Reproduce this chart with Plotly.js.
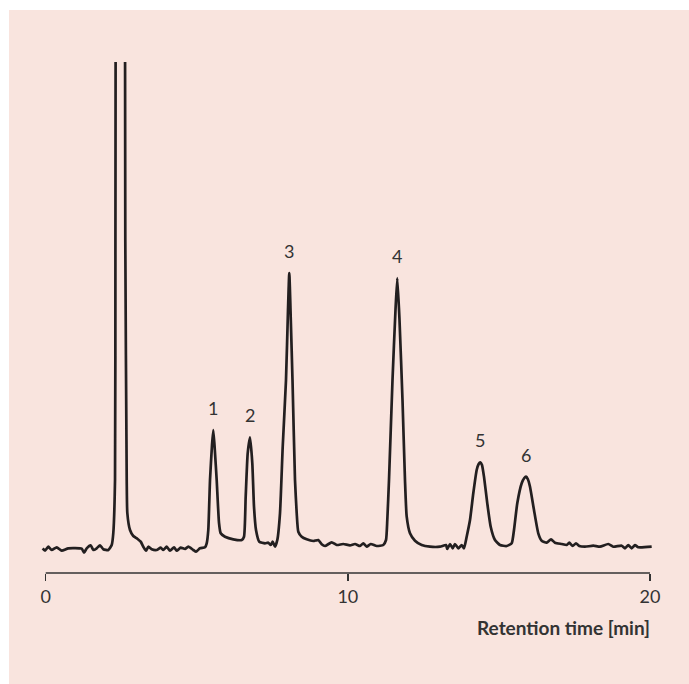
<!DOCTYPE html>
<html>
<head>
<meta charset="utf-8">
<script src="https://cdn.plot.ly/plotly-3.0.1.min.js"></script>
<style>
  html, body { margin: 0; padding: 0; background: #ffffff; }
  #chart { width: 689px; height: 684px; }
</style>
</head>
<body>
<div id="chart"></div>
<script>
// Retention time (min)
const retentionTime = [
  -0.099, -0.023, 0.086, 0.199, 0.364, 0.530, 0.748, 1.191, 1.268, 1.357,
  1.489, 1.575, 1.688, 1.797, 1.906, 2.072, 2.184, 2.237, 2.294, 2.307,
  2.333, 2.470, 2.608, 2.634, 2.681, 2.701, 2.790, 2.899, 3.032, 3.144,
  3.230, 3.320, 3.396, 3.508, 3.674, 3.806, 3.892, 4.005, 4.114, 4.246,
  4.336, 4.468, 4.610, 4.719, 4.885, 4.974, 5.107, 5.272, 5.328, 5.381,
  5.438, 5.504, 5.547, 5.597, 5.659, 5.736, 5.792, 5.934, 6.209, 6.487,
  6.563, 6.619, 6.685, 6.762, 6.838, 6.894, 6.960, 7.069, 7.258, 7.367,
  7.447, 7.513, 7.589, 7.665, 7.754, 7.844, 7.953, 8.019, 8.062, 8.112,
  8.168, 8.251, 8.307, 8.360, 8.473, 8.638, 8.857, 9.022, 9.134, 9.244,
  9.465, 9.631, 9.849, 10.071, 10.237, 10.402, 10.511, 10.624, 10.756, 10.955,
  11.173, 11.263, 11.306, 11.362, 11.478, 11.577, 11.637, 11.710, 11.809, 11.891,
  11.948, 12.057, 12.222, 12.444, 12.719, 13.050, 13.248, 13.291, 13.381, 13.470,
  13.546, 13.656, 13.768, 13.844, 13.933, 14.043, 14.152, 14.264, 14.330, 14.384, 14.440, 14.506,
  14.615, 14.728, 14.870, 15.036, 15.257, 15.423, 15.499, 15.608, 15.754, 15.840, 15.896, 15.955,
  16.029, 16.161, 16.303, 16.416, 16.581, 16.724, 16.856, 17.078, 17.243, 17.329,
  17.442, 17.551, 17.660, 17.849, 18.124, 18.345, 18.620, 18.785, 19.063, 19.173,
  19.282, 19.394, 19.504, 19.613, 20.056
];

// Detector signal (arbitrary units)
const signal = [
  0.7, -1.7, 2.3, -1, 1.7, -1.7, 0.7, 0.3, -3.7, 0.7,
  3.7, -1, 0.7, 3.7, -0.3, -1, 4, 16, 69, 309,
  720, 950, 720, 309, 69, 36, 19, 13, 10.3, 7.3,
  2.3, -1.7, 2.3, -0.3, -1, 1.3, -1, 2.3, -1.7, 1.7,
  -1.7, 1.3, 0, 2.3, -1, -2.7, 0.7, 1.7, 5.7, 19,
  69, 104, 119, 99, 69, 26, 15.7, 12.3, 9.7, 9,
  12.3, 52.3, 95.7, 111.7, 85.7, 42.3, 19, 7.3, 5.7, 6.3,
  4, 7.3, 2.3, 9, 35.7, 102.3, 169, 239, 276, 229,
  169, 69, 36, 17.3, 12.3, 9.7, 8, 9, 4.7, 3,
  6.7, 4, 5, 3.7, 5, 3, 5.7, 2.3, 5, 3,
  4, 9, 29, 69, 169, 239, 271, 229, 149, 69,
  32.3, 15.7, 8.3, 4, 2.3, 2.3, 4, 0, 5, 0.7,
  5, 0.7, 4, 0.7, 12.3, 29, 55.7, 79, 85, 86.7, 84, 72.3,
  45.7, 22.3, 9, 4, 3, 5.7, 19, 45.7, 65.7, 71, 72.3, 70,
  62.3, 39, 15.7, 8.3, 6.3, 9.7, 6.3, 5, 4, 6.3,
  3, 5.7, 3, 2.3, 3.3, 2.3, 5, 2.3, 3.3, 0.7,
  4, 0.7, 4, 1.7, 2.3
];

// Peak labels
const peakLabels = ["1", "2", "3", "4", "5", "6"];
const peakTimes = [5.547, 6.762, 8.062, 11.637, 14.384, 15.896];
const peakHeights = [119, 111.7, 276, 271, 86.7, 72.3];

// Axis ticks
const tickValues = [0, 10, 20];
const tickLabels = ["0", "10", "20"];
const xTitle = "Retention time [min]";

const pink = "#F9E4DE";
const ink = "#231F20";
const textCol = "#333333";

const annotations = peakLabels.map((lab, i) => ({
  x: peakTimes[i], y: peakHeights[i], xref: "x", yref: "y",
  text: lab, showarrow: false, yshift: 22,
  xanchor: "center", yanchor: "middle",
  font: { family: "Lato, sans-serif", size: 18, color: textCol }
}));
annotations.push({
  x: 20.076, xref: "x", y: -0.1057, yref: "paper",
  text: xTitle, showarrow: false, xanchor: "right", yanchor: "middle",
  font: { family: "Lato, sans-serif", size: 19, color: textCol, weight: "bold" }
});

const data = [{
  type: "scatter", mode: "lines",
  x: retentionTime, y: signal,
  line: { color: ink, width: 2.7, shape: "spline", smoothing: 0.5 },
  hoverinfo: "skip"
}];

const layout = {
  width: 689, height: 684,
  margin: { l: 41, r: 36, t: 62, b: 111, pad: 0 },
  paper_bgcolor: "#ffffff",
  plot_bgcolor: "rgba(0,0,0,0)",
  showlegend: false,
  xaxis: {
    range: [-0.156, 20.1],
    showgrid: false, zeroline: false, showline: false,
    ticks: "outside", ticklen: 7, tickwidth: 1.5, tickcolor: textCol,
    tickmode: "array", tickvals: tickValues, ticktext: tickLabels,
    ticklabelstandoff: 0,
    tickfont: { family: "Lato, sans-serif", size: 18, color: textCol }
  },
  yaxis: {
    range: [-24, 487], visible: false, fixedrange: true
  },
  shapes: [
    { type: "rect", xref: "paper", yref: "paper", x0: -0.0523, x1: 1.07, y0: -0.23, y1: 1.1018,
      fillcolor: pink, line: { width: 0 }, layer: "below" },
    { type: "line", xref: "x", yref: "paper", x0: tickValues[0], x1: tickValues[tickValues.length - 1], y0: 0, y1: 0,
      line: { color: textCol, width: 1.5 } }
  ],
  annotations: annotations
};

Plotly.newPlot("chart", data, layout, { displayModeBar: false, staticPlot: true });
</script>
</body>
</html>
